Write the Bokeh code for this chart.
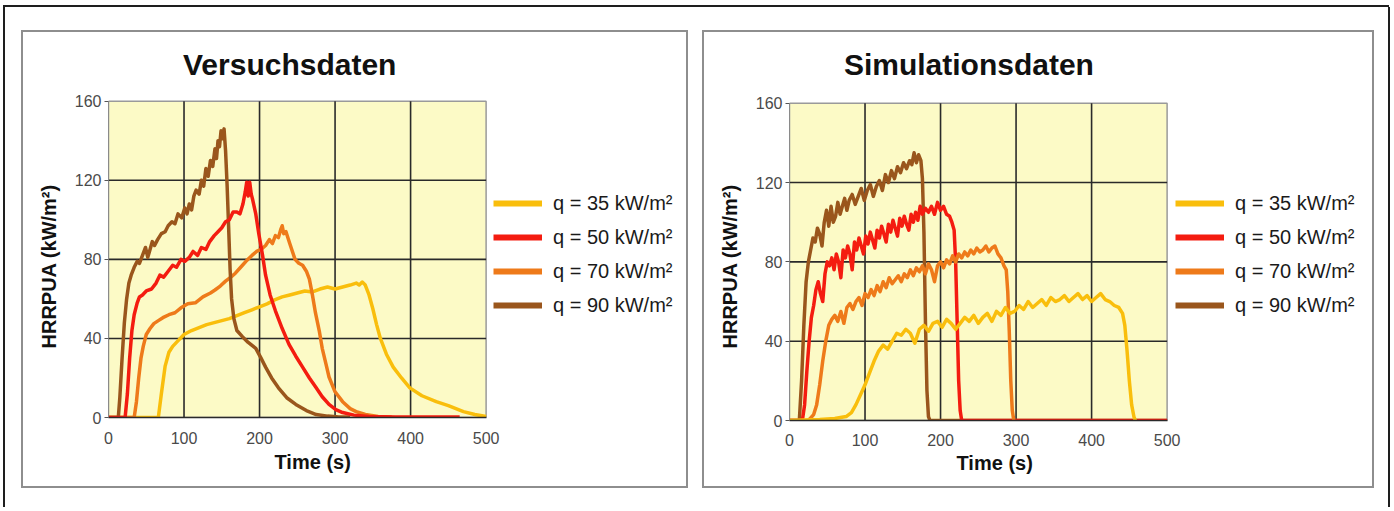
from bokeh.plotting import figure
from bokeh.models import Range1d, FixedTicker, Legend, LegendItem, Row, Column, Spacer, Label, Title
from bokeh.embed import file_html
from bokeh.resources import INLINE

# ---------------- data ----------------
panel_titles = ["Versuchsdaten", "Simulationsdaten"]
series_labels = ["q = 35 kW/m²", "q = 50 kW/m²", "q = 70 kW/m²", "q = 90 kW/m²"]
series_colors = ["#F9BE0C", "#F41C10", "#EE7A1A", "#9A561C"]
x_ticks = [0, 100, 200, 300, 400, 500]
y_ticks = [0, 40, 80, 120, 160]
x_label = "Time (s)"
y_label = "HRRPUA (kW/m²)"

# Versuchsdaten (experiment)
exp35_t = [0, 66, 70, 75, 80, 85, 90, 100, 110, 120, 130, 140, 150, 160, 170, 180, 190, 200, 210, 220,
           230, 240, 250, 260, 270, 280, 290, 300, 310, 320, 328, 332, 336, 340, 345, 350, 355, 360, 368,
           377, 388, 399, 415, 434, 450, 470, 485, 500]
exp35_v = [0, 0, 12, 26, 33, 36, 38, 42, 44, 45.5, 47, 48, 49, 50, 51.5, 53, 54.5, 56, 57.5, 59.5,
           61, 62, 63, 64, 63.5, 65, 66, 65, 66, 67, 68, 67, 68.5, 67, 62, 55, 47, 40, 32,
           25.5, 20, 15, 11, 8, 6, 3, 1.5, 0.5]

exp50_t = [0, 22, 25, 28, 31, 34, 38, 41, 45, 50, 57, 63, 68, 73, 79, 85, 90, 96, 101, 107, 112, 118,
           123, 129, 134, 140, 145, 150, 155, 160, 165, 170, 174, 178, 181, 183, 185, 187, 189, 191, 195,
           199, 204, 208, 214, 221, 230, 239, 248, 257, 266, 275, 283, 292, 301, 310, 325, 345, 380, 420, 465]
exp50_v = [0, 0, 12, 30, 44, 52, 58, 61, 62, 64, 65, 68, 72, 71, 74, 77, 76, 80, 79, 81, 84, 82,
           86, 85, 89, 92, 94, 96, 99, 100, 104, 104, 103, 108, 114, 119, 112, 119, 113, 110, 103,
           93, 82, 72, 62, 54, 45, 37, 31, 25.5, 20, 15, 10.5, 6.6, 4, 2.5, 1.2, 0.5, 0.3, 0.3, 0.3]

exp70_t = [0, 34, 37, 40, 43, 46, 50, 55, 60, 66, 72, 80, 88, 96, 105, 115, 125, 135, 141, 148, 155,
           162, 168, 175, 182, 190, 196, 202, 208, 213, 217, 221, 225, 228, 230, 232, 235, 240, 247, 252,
           257, 262, 266, 270, 274, 279, 283, 288, 292, 300, 310, 320, 328, 340, 357, 375]
exp70_v = [0, 0, 8, 20, 30, 36, 42, 45, 47.5, 49, 50.5, 52, 53, 55.5, 57.5, 58, 61, 63, 64.5, 66.5, 69,
           71, 73, 76, 79, 82, 84, 85, 87, 90, 88, 92, 91, 95, 97, 93, 94, 88, 80, 78,
           77, 74, 70, 62, 53, 44, 35, 27, 20.5, 13, 8, 4.5, 3, 1.5, 0.5, 0.3]

exp90_t = [0, 13, 15, 18, 21, 24, 27, 30, 34, 38, 41, 45, 49, 52, 55, 58, 61, 65, 70, 75, 79, 84, 88,
           92, 97, 101, 104, 107, 110, 113, 116, 120, 123, 126, 129, 132, 135, 138, 141, 143, 145, 147,
           149, 151, 153, 155, 157, 159, 161, 163, 166, 170, 177, 185, 195, 202, 208, 216, 225, 236, 248,
           262, 275, 290, 305, 320]
exp90_v = [0, 0, 10, 30, 48, 60, 68, 72, 76, 79, 78, 82, 86, 81, 85, 89, 87, 90, 93, 94, 97, 99, 98,
           103, 101, 106, 103, 108, 105, 112, 115, 113, 120, 117, 126, 122, 130, 127, 136, 131, 140, 137,
           145, 141, 146, 135, 118, 97, 75, 60, 50, 44, 41, 38, 35, 30, 25.5, 20, 15, 10, 6.6,
           3.5, 1.5, 0.7, 0.3, 0.2]

# Simulationsdaten (simulation)
sim35_t = [0, 40, 60, 75, 82, 88, 94, 100, 106, 112, 118, 124, 130, 136, 142, 148, 154, 160, 166, 172,
           178, 184, 190, 196, 202, 208, 214, 220, 226, 232, 238, 244, 250, 256, 262, 268, 274, 280, 286,
           292, 298, 304, 310, 316, 322, 328, 334, 340, 346, 352, 358, 364, 370, 376, 382, 388, 394, 400,
           406, 412, 418, 424, 430, 436, 441, 444, 447, 450, 453, 456, 458]
sim35_v = [0, 0.5, 1, 2, 4, 8, 13, 18, 24, 30, 35, 38, 36, 40, 44, 43, 46, 44, 39, 46,
           48, 45, 49, 50, 47, 51, 49, 46, 49, 52, 50, 53, 49, 52, 54, 50, 55, 53, 57,
           54, 55, 58, 56, 60, 57, 59, 61, 58, 62, 60, 61, 63, 60, 62, 64, 61, 63, 60,
           62, 64, 61, 60, 58, 57, 54, 48, 35, 20, 8, 2, 0]

sim50_t = [0, 17, 20, 23, 26, 29, 32, 35, 38, 41, 44, 47, 50, 53, 56, 59, 62, 65, 68, 71, 74, 77, 80,
           83, 86, 89, 92, 95, 98, 101, 104, 107, 110, 113, 116, 119, 122, 125, 128, 131, 134, 137, 140,
           143, 146, 149, 152, 155, 158, 161, 164, 167, 170, 173, 176, 180, 184, 188, 192, 196, 200, 204,
           208, 212, 215, 218, 220, 222, 224, 226, 228, 500]
sim50_v = [0, 0, 8, 25, 40, 52, 58, 66, 70, 64, 60, 74, 80, 78, 82, 76, 84, 80, 72, 86, 82, 88, 84,
           76, 90, 86, 92, 88, 84, 93, 89, 95, 91, 87, 96, 92, 98, 94, 90, 99, 95, 101, 97,
           93, 102, 98, 103, 99, 96, 104, 100, 105, 101, 108, 104, 107, 105, 108, 104, 110, 106, 108,
           104, 103, 100, 96, 80, 50, 20, 5, 0, 0]

sim70_t = [0, 25, 32, 36, 40, 44, 48, 52, 56, 60, 64, 68, 72, 76, 80, 84, 88, 92, 96, 100, 104, 108,
           112, 116, 120, 124, 128, 132, 136, 140, 144, 148, 152, 156, 160, 164, 168, 172, 176, 180, 184,
           188, 192, 196, 200, 204, 208, 212, 216, 220, 224, 228, 232, 236, 240, 244, 248, 252, 256, 260,
           264, 268, 272, 276, 280, 284, 287, 289, 291, 293, 295, 297]
sim70_v = [0, 0, 3, 8, 18, 30, 40, 48, 51, 53, 50, 55, 49, 57, 59, 56, 60, 62, 58, 64, 62, 66,
           63, 68, 65, 70, 67, 72, 69, 71, 73, 70, 74, 72, 76, 73, 77, 75, 78, 74, 79,
           76, 70, 78, 80, 77, 81, 79, 83, 80, 84, 82, 85, 83, 86, 84, 87, 85, 86, 88,
           85, 87, 88, 84, 82, 78, 76, 65, 45, 20, 5, 0]

sim90_t = [0, 13, 16, 19, 22, 25, 28, 31, 34, 37, 40, 43, 46, 49, 52, 55, 58, 61, 64, 67, 70, 73, 76,
           79, 83, 87, 91, 95, 99, 103, 107, 111, 115, 119, 123, 127, 131, 135, 139, 143, 147, 151, 155,
           159, 162, 165, 168, 171, 174, 176, 178, 180, 182, 184, 186, 500]
sim90_v = [0, 0, 20, 48, 70, 80, 86, 92, 90, 97, 94, 88, 100, 106, 98, 108, 100, 103, 110, 104, 108, 112, 106,
           111, 114, 109, 113, 117, 111, 116, 119, 113, 118, 121, 116, 124, 120, 126, 122, 128, 125, 130, 127,
           131, 129, 135, 130, 134, 131, 122, 95, 50, 15, 2, 0, 0]

exp_series = [(exp35_t, exp35_v), (exp50_t, exp50_v), (exp70_t, exp70_v), (exp90_t, exp90_v)]
sim_series = [(sim35_t, sim35_v), (sim50_t, sim50_v), (sim70_t, sim70_v), (sim90_t, sim90_v)]

FONT = "Liberation Sans"
NAN = float("nan")

PLOT_W = 375          # px width of the 0..500 s plot area
FRAME_W = 575         # frame also holds the legend right of the plot area
CANVAS_H = 454


def make_panel(title, series, draw_order, canvas_w, bl, plot_top, plot_h, title_x_px, legend_loc,
               xlab_offset, ylab_offset, xlab_standoff, xtick_standoff):
    frame_h = plot_top + plot_h                 # frame starts at the canvas top
    px_per_y = plot_h / y_ticks[-1]
    px_per_x = PLOT_W / x_ticks[-1]
    x_end = x_ticks[-1] * FRAME_W / PLOT_W
    y_end = y_ticks[-1] * frame_h / plot_h
    p = figure(frame_width=FRAME_W, frame_height=frame_h, output_backend="svg", toolbar_location=None,
               x_range=Range1d(x_ticks[0], x_end), y_range=Range1d(y_ticks[0], y_end),
               min_border_left=bl, min_border_right=canvas_w - bl - FRAME_W,
               min_border_top=0, min_border_bottom=CANVAS_H - frame_h,
               background_fill_color="white", border_fill_color="white",
               outline_line_color=None,
               styles={"border": "2px solid #8e8e8e"})
    p.grid.visible = False

    # pale yellow plot area with grey outline
    p.quad(left=x_ticks[0], right=x_ticks[-1], bottom=y_ticks[0], top=y_ticks[-1],
           fill_color="#FCFAC6", line_color="#9a9a9a", line_width=1.5, level="image")
    # grid lines
    gx = x_ticks[1:-1]
    gy = y_ticks[1:-1]
    p.segment(x0=gx, y0=[y_ticks[0]] * len(gx), x1=gx, y1=[y_ticks[-1]] * len(gx),
              line_color="#2a2a2a", line_width=1.6, level="underlay")
    p.segment(x0=[x_ticks[0]] * len(gy), y0=gy, x1=[x_ticks[-1]] * len(gy), y1=gy,
              line_color="#2a2a2a", line_width=1.6, level="underlay")

    p.xaxis.ticker = FixedTicker(ticks=x_ticks)
    p.yaxis.ticker = FixedTicker(ticks=y_ticks)
    p.xaxis.bounds = (x_ticks[0], x_ticks[-1])
    p.yaxis.bounds = (y_ticks[0], y_ticks[-1])
    for ax in (p.xaxis, p.yaxis):
        ax.major_label_text_font = FONT
        ax.major_label_text_font_size = "16px"
        ax.major_label_text_color = "#4a4a4a"
        ax.minor_tick_line_color = None
        ax.major_tick_in = 0
    p.xaxis.axis_line_color = "#2a2a2a"
    p.xaxis.axis_line_width = 1.6
    p.xaxis.major_tick_out = 0
    p.xaxis.major_label_standoff = xtick_standoff
    p.yaxis.axis_line_color = "#8a8a8a"
    p.yaxis.major_tick_out = 4
    p.yaxis.major_tick_line_color = "#555555"
    p.yaxis.major_label_standoff = 3

    # axis titles placed off-centre like the reference
    p.add_layout(Title(text=x_label, align="left", offset=xlab_offset, standoff=xlab_standoff,
                       text_font=FONT, text_font_size="20px", text_font_style="bold",
                       text_color="#111111"), "below")
    p.add_layout(Title(text=y_label, align="left", offset=ylab_offset, standoff=24,
                       text_font=FONT, text_font_size="20px", text_font_style="bold",
                       text_color="#111111"), "left")

    for i in draw_order:
        t, v = series[i]
        p.line(t, v, line_color=series_colors[i], line_width=3.5, line_join="round")

    items = []
    for i, lab in enumerate(series_labels):
        r = p.line(x=[NAN], y=[NAN], line_color=series_colors[i], line_width=6)
        items.append(LegendItem(label=lab, renderers=[r]))
    leg = Legend(items=items, location=legend_loc, padding=0, margin=0, spacing=0,
                 glyph_width=49, glyph_height=34, label_standoff=11,
                 label_text_font=FONT, label_text_font_size="20px", label_text_color="#1a1a1a",
                 border_line_color=None, background_fill_alpha=0)
    p.add_layout(leg)

    # panel heading (inside the frame, above the plot area)
    title_cy_px = 64 - 32
    p.add_layout(Label(x=title_x_px / px_per_x, y=y_ticks[-1] + (plot_top - title_cy_px) / px_per_y,
                       text=title, text_align="left", text_baseline="middle",
                       text_font=FONT, text_font_size="30px", text_font_style="bold",
                       text_color="#111111"))
    return p


left = make_panel(panel_titles[0], exp_series, [0, 2, 3, 1], 663, 85, 68, 313, 74, (385, 95),
                  166, 69, 4, 14)
right = make_panel(panel_titles[1], sim_series, [3, 1, 2, 0], 667, 84, 70, 314, 54, (386, 98),
                   167, 72, 2, 13)

BLACK = {"background-color": "#1e1e1e"}
top_line = Spacer(width=1386, height=2, styles=BLACK)
left_line = Spacer(width=2, height=500, styles=BLACK)
right_line = Spacer(width=2, height=500, styles=BLACK)
panels = Row(children=[left, Spacer(width=14, height=10), right])
inner = Column(children=[Spacer(width=10, height=23), panels])
middle = Row(children=[left_line, Spacer(width=16, height=10), inner, Spacer(width=14, height=10), right_line])
framed = Column(children=[Spacer(width=10, height=5), top_line, middle])
layout = Row(children=[Spacer(width=3, height=10), framed])

open("out.html", "w").write(file_html(layout, INLINE))
